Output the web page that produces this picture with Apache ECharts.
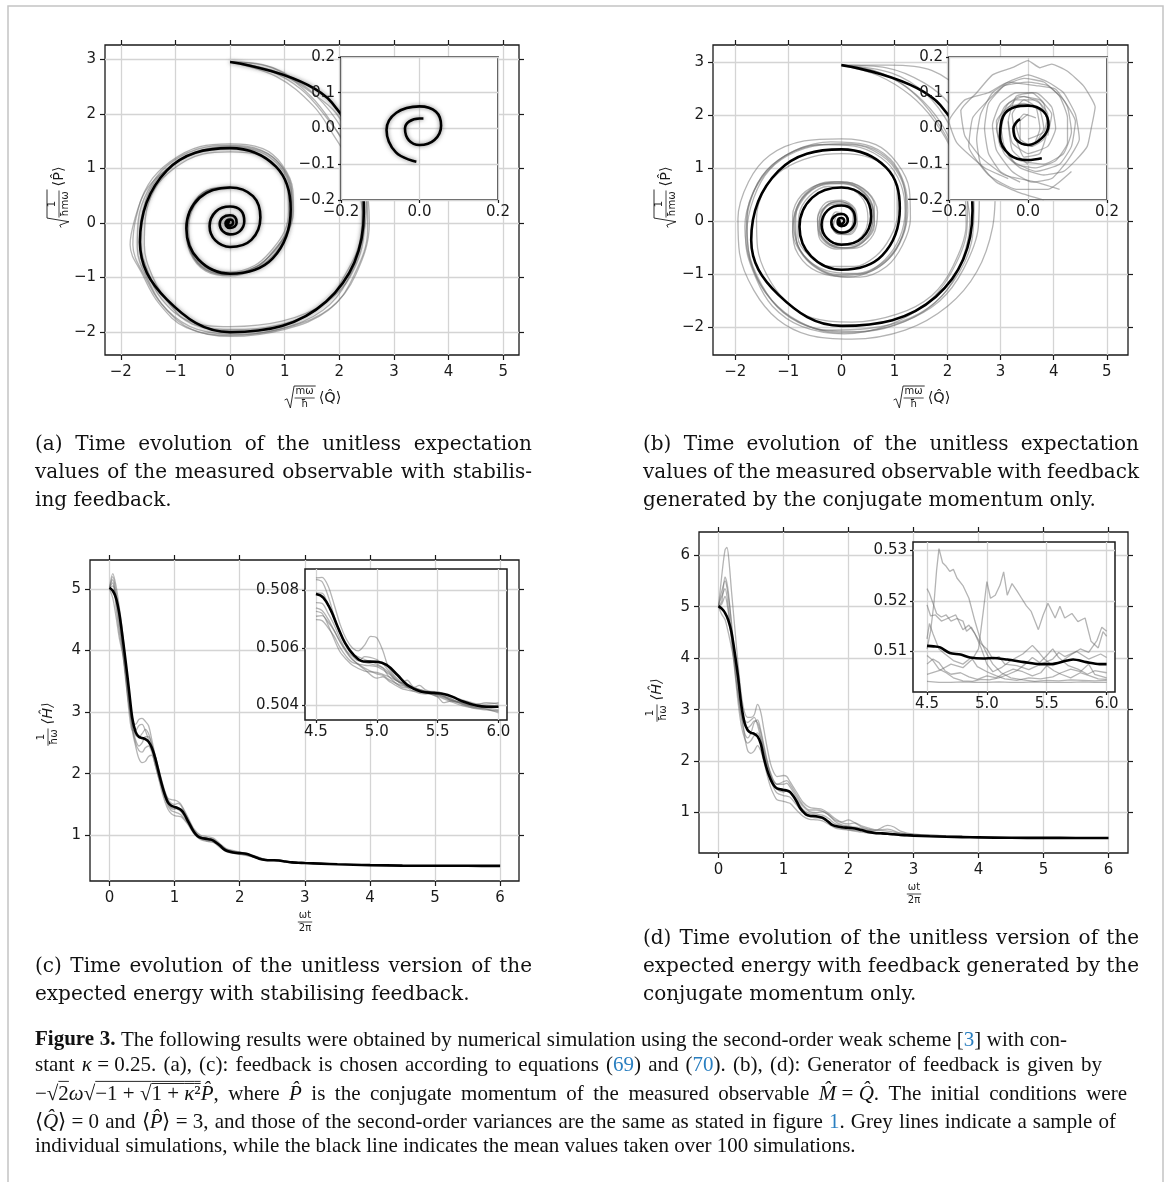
<!DOCTYPE html>
<html>
<head>
<meta charset="utf-8">
<script src="https://cdn.jsdelivr.net/npm/echarts@6/dist/echarts.min.js"></script>
<style>
  html, body { margin: 0; padding: 0; background: #fff; }
  #fig { width: 1167px; height: 1182px; }
</style>
</head>
<body>
<div id="fig"></div>
<script>
// ---- (a) phase-space spiral, stabilising feedback: [Q, P] ----
// one point per 45 degrees, placed on the extremes of each turn
const meanA = [
  [0,2.95],[1.86,2.21],[2.45,0.2],[1.76,-1.44],[0,-2.0],[-1.16,-1.4],[-1.65,-0.35],[-1.16,0.96],
  [0,1.37],[0.84,1.03],[1.11,0.25],[0.78,-0.65],[0,-0.93],[-0.58,-0.67],[-0.8,-0.1],[-0.56,0.46],
  [0,0.65],[0.42,0.49],[0.555,0.1],[0.39,-0.31],[0,-0.44],[-0.27,-0.32],[-0.375,-0.06],[-0.26,0.21],
  [0,0.3],[0.2,0.225],[0.26,0.03],[0.18,-0.15],[0,-0.21],[-0.135,-0.15],[-0.19,-0.02],[-0.133,0.1],
  [0,0.14],[0.09,0.105],[0.12,0.01],[0.085,-0.065],[-0.008,-0.093],[-0.06,-0.067],[-0.084,-0.004],[-0.059,0.044],
  [0,0.062],[0.042,0.047],[0.055,0.008],[0.038,-0.032],[0,-0.046],[-0.027,-0.033],[-0.037,0],[-0.026,0.02],
  [0,0.028],[0.01,0.028]
];
const greyA1 = [[0,2.95],[0.7,2.8],[1.3,2.45],[1.75,1.95],[2.2,1.3],[2.5,0.5],[2.52,-0.1],[2.25,-1.0],[1.8,-1.6],[1.0,-1.95],[0,-2.08],[-0.7,-1.95],[-1.2,-1.55],[-1.55,-1.0],[-1.78,-0.4],[-1.72,0.1],[-1.5,0.7],[-1.1,1.12],[-0.55,1.4],[0,1.45],[0.6,1.36],[0.95,1.07],[1.15,0.6],[1.16,0.2],[1.05,-0.2],[0.8,-0.58],[0.45,-0.85],[0,-0.97],[-0.45,-0.88],[-0.73,-0.55],[-0.8,-0.1],[-0.7,0.32],[-0.42,0.6],[0,0.66]];
const greyA2 = [[0,2.95],[0.85,2.68],[1.52,2.15],[1.9,1.6],[2.25,1.0],[2.42,0.4],[2.4,-0.2],[2.05,-1.05],[1.65,-1.55],[0.9,-1.87],[0,-1.95],[-0.7,-1.85],[-1.1,-1.5],[-1.42,-0.98],[-1.57,-0.4],[-1.55,0.1],[-1.38,0.62],[-1.05,0.98],[-0.5,1.26],[0,1.3],[0.52,1.25],[0.88,1.0],[1.06,0.6],[1.07,0.2],[1.0,-0.15],[0.76,-0.5],[0.45,-0.78],[0,-0.9],[-0.42,-0.82],[-0.68,-0.52],[-0.76,-0.1],[-0.66,0.3],[-0.4,0.56],[0,0.63]];
const greyA3 = [[0,2.95],[0.6,2.9],[1.2,2.62],[1.7,2.2],[2.15,1.55],[2.48,0.7],[2.55,0.0],[2.3,-0.95],[1.85,-1.55],[1.1,-1.9],[0.2,-2.04],[-0.6,-1.95],[-1.15,-1.6],[-1.5,-1.05],[-1.7,-0.45],[-1.68,0.05],[-1.5,0.6],[-1.15,1.05],[-0.6,1.35],[0,1.42],[0.58,1.33],[0.96,1.02],[1.13,0.58],[1.12,0.15],[1.02,-0.22],[0.78,-0.55],[0.45,-0.82],[0,-0.95],[-0.44,-0.86],[-0.72,-0.54],[-0.8,-0.1],[-0.7,0.31],[-0.43,0.59],[0,0.65]];
const greyA4 = [[0,2.95],[0.9,2.75],[1.45,2.35],[1.85,1.85],[2.2,1.2],[2.38,0.5],[2.45,-0.1],[2.2,-0.98],[1.72,-1.48],[0.95,-1.8],[0,-1.9],[-0.75,-1.8],[-1.25,-1.4],[-1.5,-0.9],[-1.65,-0.3],[-1.6,0.2],[-1.4,0.72],[-1.0,1.1],[-0.48,1.33],[0,1.38],[0.55,1.3],[0.92,1.02],[1.1,0.62],[1.12,0.22],[1.05,-0.12],[0.8,-0.52],[0.48,-0.8],[0,-0.92],[-0.43,-0.84],[-0.7,-0.56],[-0.78,-0.12],[-0.69,0.3],[-0.42,0.58],[0,0.64]];
const greyA5 = [[0,2.95],[0.75,2.85],[1.4,2.45],[1.95,2.0],[2.3,1.3],[2.5,0.55],[2.47,-0.05],[2.15,-1.05],[1.7,-1.6],[0.95,-1.93],[0,-2.06],[-0.8,-1.92],[-1.3,-1.48],[-1.6,-0.95],[-1.83,-0.4],[-1.75,0.05],[-1.55,0.58],[-1.2,0.95],[-0.6,1.3],[0,1.4],[0.57,1.32],[0.93,1.05],[1.12,0.6],[1.14,0.2],[1.06,-0.15],[0.8,-0.5],[0.5,-0.8],[0,-0.94],[-0.44,-0.86],[-0.71,-0.55],[-0.79,-0.12],[-0.7,0.3],[-0.43,0.58],[0,0.65]];
const insetMeanA = [[-0.008,-0.093],[-0.06,-0.067],[-0.084,-0.004],[-0.059,0.044],[0,0.062],[0.042,0.047],[0.055,0.008],[0.038,-0.032],[0,-0.046],[-0.027,-0.033],[-0.037,0],[-0.026,0.02],[0,0.028],[0.01,0.028]];

// ---- (b) phase-space spiral, momentum-only feedback ----
const meanB = [
  [0,2.95],[1.86,2.2],[2.47,0.2],[1.78,-1.42],[0,-1.97],[-1.19,-1.38],[-1.7,-0.35],[-1.19,0.95],
  [0,1.36],[0.84,1.02],[1.1,0.25],[0.77,-0.64],[0,-0.91],[-0.57,-0.66],[-0.79,-0.1],[-0.55,0.45],
  [0,0.64],[0.42,0.48],[0.56,0.1],[0.39,-0.31],[0,-0.44],[-0.27,-0.32],[-0.375,-0.06],[-0.26,0.21],
  [0,0.3],[0.2,0.225],[0.26,0.03],[0.18,-0.15],[0,-0.21],[-0.135,-0.15],[-0.19,-0.02],[-0.133,0.1],
  [0,0.14],[0.09,0.105],[0.12,0.01],[0.085,-0.06],[0.035,-0.083],[0,-0.088],[-0.046,-0.074],[-0.071,-0.022],[-0.063,0.034],[-0.033,0.06],[0,0.064],
  [0.039,0.048],[0.052,0.01],[0.035,-0.027],[0,-0.046],[-0.029,-0.032],[-0.037,0],[-0.03,0.017],[-0.02,0.026]
];
const greyB1 = [[0,2.95],[0.9,2.95],[1.7,2.85],[2.3,2.4],[2.7,1.6],[2.9,0.7],[2.85,-0.1],[2.55,-0.95],[2.0,-1.6],[1.2,-2.05],[0.2,-2.22],[-0.6,-2.15],[-1.2,-1.85],[-1.65,-1.3],[-1.92,-0.6],[-1.95,0.05],[-1.75,0.75],[-1.35,1.25],[-0.7,1.52],[0,1.56],[0.65,1.45],[1.05,1.1],[1.28,0.6],[1.3,0.05],[1.15,-0.45],[0.85,-0.85],[0.35,-1.05],[-0.2,-1.02],[-0.65,-0.82],[-0.9,-0.4],[-0.92,0.1],[-0.75,0.5],[-0.35,0.72],[0.1,0.74],[0.5,0.55],[0.68,0.18],[0.6,-0.25],[0.3,-0.5],[-0.1,-0.52],[-0.42,-0.3],[-0.45,0.05],[-0.3,0.35],[0,0.4],[0.25,0.25],[0.3,-0.05],[0.15,-0.25],[-0.1,-0.22],[-0.2,0],[-0.1,0.18],[0.05,0.15]];
const greyB2 = [[0,2.95],[0.7,2.75],[1.3,2.38],[1.75,1.9],[2.1,1.3],[2.32,0.6],[2.35,-0.05],[2.1,-0.85],[1.7,-1.4],[1.05,-1.75],[0.2,-1.9],[-0.55,-1.82],[-1.05,-1.5],[-1.4,-1.02],[-1.58,-0.5],[-1.6,0.05],[-1.45,0.6],[-1.1,0.98],[-0.55,1.22],[0,1.28],[0.55,1.2],[0.9,0.95],[1.05,0.55],[1.05,0.1],[0.92,-0.3],[0.65,-0.65],[0.25,-0.85],[-0.2,-0.85],[-0.6,-0.65],[-0.82,-0.3],[-0.8,0.12],[-0.6,0.48],[-0.25,0.66],[0.15,0.62],[0.42,0.4],[0.5,0.05],[0.38,-0.28],[0.1,-0.42],[-0.2,-0.38],[-0.35,-0.12],[-0.3,0.15],[-0.12,0.3],[0.1,0.28],[0.22,0.1],[0.18,-0.12],[0,-0.2],[-0.15,-0.08],[-0.1,0.1]];
const greyB3 = [[0,2.95],[0.85,2.9],[1.55,2.62],[2.05,2.2],[2.42,1.5],[2.6,0.7],[2.58,-0.1],[2.3,-0.9],[1.85,-1.5],[1.15,-1.9],[0.3,-2.08],[-0.5,-2.02],[-1.1,-1.72],[-1.5,-1.2],[-1.75,-0.55],[-1.78,0.1],[-1.58,0.72],[-1.2,1.15],[-0.6,1.42],[0.05,1.47],[0.62,1.36],[1.02,1.02],[1.2,0.55],[1.22,0.05],[1.08,-0.42],[0.75,-0.8],[0.3,-0.98],[-0.18,-0.95],[-0.6,-0.75],[-0.85,-0.35],[-0.86,0.1],[-0.68,0.5],[-0.3,0.72],[0.12,0.7],[0.45,0.5],[0.6,0.12],[0.5,-0.25],[0.2,-0.45],[-0.15,-0.45],[-0.38,-0.22],[-0.38,0.1],[-0.2,0.32],[0.05,0.33],[0.22,0.18],[0.24,-0.08],[0.08,-0.22],[-0.12,-0.18],[-0.16,0.02]];
const greyB4 = [[0,2.95],[0.6,2.85],[1.2,2.55],[1.65,2.1],[2.05,1.45],[2.3,0.7],[2.42,0],[2.25,-0.8],[1.9,-1.4],[1.3,-1.82],[0.5,-2.02],[-0.3,-2.05],[-0.95,-1.8],[-1.42,-1.35],[-1.72,-0.75],[-1.82,-0.1],[-1.68,0.5],[-1.35,1.0],[-0.85,1.35],[-0.2,1.5],[0.45,1.45],[0.92,1.18],[1.18,0.72],[1.25,0.2],[1.15,-0.3],[0.88,-0.72],[0.45,-0.98],[-0.05,-1.02],[-0.5,-0.85],[-0.8,-0.5],[-0.9,-0.05],[-0.78,0.38],[-0.45,0.66],[0,0.75],[0.4,0.62],[0.62,0.3],[0.62,-0.08],[0.42,-0.38],[0.1,-0.5],[-0.22,-0.42],[-0.42,-0.15],[-0.38,0.15],[-0.18,0.35],[0.08,0.35],[0.26,0.18],[0.27,-0.08],[0.1,-0.24],[-0.1,-0.2]];
const greyB5 = [[0,2.95],[0.8,2.78],[1.4,2.4],[1.88,1.85],[2.2,1.15],[2.38,0.45],[2.36,-0.2],[2.05,-1.0],[1.6,-1.55],[0.9,-1.95],[0.05,-2.12],[-0.75,-1.98],[-1.3,-1.6],[-1.62,-1.05],[-1.8,-0.4],[-1.75,0.25],[-1.5,0.85],[-1.05,1.25],[-0.45,1.45],[0.2,1.45],[0.75,1.25],[1.1,0.85],[1.22,0.35],[1.18,-0.15],[0.98,-0.6],[0.6,-0.92],[0.12,-1.05],[-0.35,-0.95],[-0.72,-0.65],[-0.92,-0.2],[-0.85,0.25],[-0.6,0.6],[-0.2,0.75],[0.25,0.68],[0.55,0.4],[0.62,0.02],[0.48,-0.32],[0.18,-0.5],[-0.15,-0.48],[-0.4,-0.28],[-0.45,0.05],[-0.28,0.3],[-0.02,0.38],[0.2,0.25],[0.25,0],[0.12,-0.2],[-0.08,-0.22],[-0.18,-0.05]];
const greyB6 = [[0,2.95],[0.95,2.8],[1.6,2.4],[2.05,1.8],[2.35,1.1],[2.5,0.35],[2.45,-0.4],[2.1,-1.15],[1.55,-1.7],[0.8,-2.02],[-0.05,-2.1],[-0.8,-1.9],[-1.35,-1.45],[-1.68,-0.85],[-1.78,-0.2],[-1.65,0.45],[-1.35,0.98],[-0.85,1.32],[-0.25,1.45],[0.35,1.4],[0.85,1.12],[1.12,0.7],[1.2,0.2],[1.1,-0.3],[0.82,-0.72],[0.4,-0.98],[-0.1,-1.0],[-0.55,-0.8],[-0.82,-0.45],[-0.88,0],[-0.72,0.42],[-0.38,0.68],[0.05,0.72],[0.42,0.55],[0.6,0.2],[0.55,-0.18],[0.3,-0.45],[-0.05,-0.5],[-0.35,-0.32],[-0.42,0],[-0.3,0.28],[-0.05,0.38],[0.18,0.28],[0.25,0.05],[0.15,-0.18],[-0.05,-0.24],[-0.2,-0.1]];
const insetMeanB = [[0.035,-0.083],[0,-0.088],[-0.046,-0.074],[-0.071,-0.022],[-0.063,0.034],[-0.033,0.06],[0,0.064],[0.039,0.048],[0.052,0.01],[0.035,-0.027],[0,-0.046],[-0.029,-0.032],[-0.037,0],[-0.03,0.017],[-0.02,0.026]];
const insetGreyB1 = [[0.08,-0.17],[0.02,-0.15],[-0.06,-0.13],[-0.12,-0.08],[-0.16,-0.02],[-0.17,0.05],[-0.13,0.1],[-0.09,0.15],[-0.04,0.17],[0.0,0.19],[0.03,0.17],[0.06,0.18],[0.1,0.16],[0.14,0.12],[0.17,0.06],[0.16,0.0],[0.15,-0.05],[0.12,-0.09],[0.09,-0.12],[0.04,-0.13],[-0.02,-0.11],[-0.06,-0.07],[-0.08,0.0],[-0.06,0.06],[-0.02,0.09],[0.03,0.08],[0.06,0.04],[0.05,-0.02]];
const insetGreyB2 = [[0.04,-0.2],[-0.02,-0.18],[-0.08,-0.15],[-0.12,-0.1],[-0.13,-0.03],[-0.12,0.04],[-0.09,0.1],[-0.05,0.13],[0.0,0.15],[0.05,0.13],[0.09,0.1],[0.12,0.04],[0.13,-0.03],[0.1,-0.09],[0.06,-0.14],[0.01,-0.15],[-0.04,-0.12],[-0.08,-0.06],[-0.09,0.01],[-0.07,0.07],[-0.03,0.1],[0.02,0.1],[0.06,0.06],[0.07,0.0],[0.05,-0.05],[0.0,-0.07],[-0.04,-0.04],[-0.05,0.02]];
const insetGreyB3 = [[-0.02,-0.15],[-0.07,-0.12],[-0.1,-0.07],[-0.11,0.0],[-0.1,0.07],[-0.06,0.12],[-0.01,0.14],[0.04,0.13],[0.08,0.09],[0.1,0.03],[0.1,-0.04],[0.07,-0.09],[0.02,-0.11],[-0.03,-0.1],[-0.06,-0.05],[-0.07,0.02],[-0.05,0.07],[-0.01,0.09],[0.03,0.07],[0.05,0.02],[0.04,-0.03],[0.01,-0.05],[-0.02,-0.03],[-0.03,0.01],[-0.01,0.04],[0.02,0.03]];
const insetGreyB4 = [[0.11,-0.12],[0.05,-0.17],[-0.03,-0.17],[-0.1,-0.13],[-0.15,-0.05],[-0.14,0.03],[-0.1,0.08],[-0.06,0.12],[0.0,0.13],[0.05,0.12],[0.09,0.08],[0.12,0.02],[0.11,-0.05],[0.08,-0.1],[0.02,-0.12],[-0.04,-0.09],[-0.07,-0.03],[-0.06,0.04],[-0.03,0.08],[0.02,0.08],[0.05,0.04],[0.04,-0.01],[0.0,-0.03]];
const insetGreyB5 = [[0.0,-0.1],[-0.04,-0.06],[-0.05,0.02],[-0.03,0.09],[0.01,0.1],[0.04,0.07],[0.05,0.0],[0.03,-0.07],[-0.01,-0.08],[-0.03,-0.03],[-0.04,0.04],[-0.01,0.08],[0.02,0.06],[0.03,0.0],[0.01,-0.05],[-0.02,-0.04],[-0.02,0.02],[0.0,0.04]];
const insetGreyB6 = [[-0.05,-0.14],[-0.11,-0.11],[-0.18,-0.04],[-0.2,0.02],[-0.16,0.08],[-0.1,0.1],[-0.05,0.13],[0.02,0.12],[0.07,0.11],[0.1,0.06],[0.11,-0.01],[0.09,-0.07],[0.04,-0.1],[-0.02,-0.09],[-0.07,-0.05],[-0.08,0.02],[-0.05,0.06],[-0.01,0.07],[0.03,0.05],[0.04,0.0],[0.02,-0.04]];

// ---- (c) energy, stabilising feedback: [omega t / 2pi, H / hbar omega] ----
const meanC = [[0,5.02],[0.05,4.97],[0.1,4.85],[0.15,4.6],[0.2,4.22],[0.25,3.8],[0.3,3.35],[0.35,2.9],[0.4,2.68],[0.45,2.6],[0.5,2.58],[0.55,2.56],[0.6,2.52],[0.65,2.42],[0.7,2.26],[0.75,2.05],[0.8,1.84],[0.85,1.66],[0.9,1.53],[0.95,1.48],[1.0,1.46],[1.05,1.44],[1.1,1.41],[1.15,1.34],[1.2,1.24],[1.25,1.14],[1.3,1.05],[1.35,0.99],[1.4,0.96],[1.5,0.94],[1.55,0.93],[1.6,0.91],[1.65,0.87],[1.7,0.83],[1.75,0.78],[1.8,0.75],[1.9,0.72],[2.0,0.71],[2.1,0.7],[2.2,0.66],[2.3,0.62],[2.4,0.6],[2.5,0.595],[2.6,0.59],[2.7,0.575],[2.8,0.56],[2.9,0.555],[3.0,0.55],[3.25,0.54],[3.5,0.53],[3.75,0.522],[4.0,0.515],[4.5,0.508],[5.0,0.5055],[5.5,0.5045],[6.0,0.504]];
const greyC1 = [[0,5.0],[0.05,5.2],[0.1,4.95],[0.15,4.5],[0.2,4.0],[0.25,3.5],[0.3,3.1],[0.35,2.85],[0.4,2.8],[0.45,2.88],[0.5,2.9],[0.55,2.85],[0.6,2.78],[0.65,2.55],[0.7,2.3],[0.75,2.05],[0.8,1.85],[0.85,1.7],[0.9,1.6],[0.95,1.58],[1.0,1.57],[1.05,1.55],[1.1,1.5],[1.2,1.3],[1.3,1.1],[1.4,1.0],[1.5,0.98],[1.6,0.95],[1.7,0.86],[1.8,0.78],[2.0,0.73],[2.2,0.68],[2.4,0.61],[2.6,0.6],[2.8,0.565],[3.0,0.553]];
const greyC2 = [[0,5.02],[0.05,5.1],[0.1,4.7],[0.15,4.3],[0.2,4.0],[0.25,3.7],[0.3,3.2],[0.35,2.7],[0.4,2.45],[0.45,2.25],[0.5,2.18],[0.55,2.2],[0.6,2.28],[0.65,2.3],[0.7,2.15],[0.75,1.95],[0.8,1.72],[0.85,1.55],[0.9,1.42],[0.95,1.35],[1.0,1.32],[1.05,1.31],[1.1,1.3],[1.2,1.18],[1.3,1.02],[1.4,0.93],[1.5,0.9],[1.6,0.88],[1.7,0.8],[1.8,0.73],[2.0,0.69],[2.2,0.65],[2.4,0.59],[2.6,0.585],[2.8,0.555],[3.0,0.547]];
const greyC3 = [[0,5.03],[0.05,5.25],[0.1,5.05],[0.15,4.7],[0.2,4.3],[0.25,3.75],[0.3,3.2],[0.35,2.8],[0.4,2.62],[0.45,2.6],[0.5,2.65],[0.55,2.72],[0.6,2.65],[0.65,2.48],[0.7,2.3],[0.75,2.1],[0.8,1.9],[0.85,1.72],[0.9,1.58],[0.95,1.52],[1.0,1.5],[1.05,1.52],[1.1,1.48],[1.2,1.28],[1.3,1.08],[1.4,0.98],[1.5,0.96],[1.6,0.93],[1.7,0.84],[1.8,0.77],[2.0,0.72],[2.2,0.67],[2.4,0.6],[2.6,0.595],[2.8,0.562],[3.0,0.552]];
const greyC4 = [[0,5.0],[0.05,4.85],[0.1,4.55],[0.15,4.2],[0.2,3.95],[0.25,3.6],[0.3,3.2],[0.35,2.75],[0.4,2.5],[0.45,2.38],[0.5,2.35],[0.55,2.42],[0.6,2.45],[0.65,2.35],[0.7,2.15],[0.75,1.95],[0.8,1.78],[0.85,1.6],[0.9,1.47],[0.95,1.4],[1.0,1.38],[1.05,1.36],[1.1,1.33],[1.2,1.2],[1.3,1.04],[1.4,0.95],[1.5,0.91],[1.6,0.89],[1.7,0.82],[1.8,0.74],[2.0,0.7],[2.2,0.655],[2.4,0.6],[2.6,0.588],[2.8,0.558],[3.0,0.549]];
const greyC5 = [[0,5.01],[0.05,5.05],[0.1,4.9],[0.15,4.55],[0.2,4.1],[0.25,3.6],[0.3,3.1],[0.35,2.75],[0.4,2.55],[0.45,2.45],[0.5,2.5],[0.55,2.6],[0.6,2.6],[0.65,2.45],[0.7,2.2],[0.75,2.0],[0.8,1.8],[0.85,1.62],[0.9,1.52],[0.95,1.45],[1.0,1.44],[1.05,1.42],[1.1,1.38],[1.2,1.22],[1.3,1.06],[1.4,0.97],[1.5,0.93],[1.6,0.91],[1.7,0.83],[1.8,0.76],[2.0,0.71],[2.2,0.662],[2.4,0.605],[2.6,0.59],[2.8,0.56],[3.0,0.55]];
const greyC6 = [[0,5.02],[0.05,5.15],[0.1,4.8],[0.15,4.4],[0.2,4.05],[0.25,3.55],[0.3,3.0],[0.35,2.7],[0.4,2.7],[0.45,2.78],[0.5,2.8],[0.55,2.7],[0.6,2.55],[0.65,2.4],[0.7,2.22],[0.75,2.02],[0.8,1.82],[0.85,1.64],[0.9,1.5],[0.95,1.43],[1.0,1.42],[1.05,1.45],[1.1,1.42],[1.2,1.25],[1.3,1.07],[1.4,0.96],[1.5,0.95],[1.6,0.92],[1.7,0.85],[1.8,0.76],[2.0,0.715],[2.2,0.67],[2.4,0.605],[2.6,0.592],[2.8,0.56],[3.0,0.551]];
const insetMeanC = [[4.5,0.50787],[4.56,0.50775],[4.62,0.50733],[4.68,0.50672],[4.74,0.50617],[4.81,0.50576],[4.89,0.50553],[5.0,0.50552],[5.08,0.50541],[5.17,0.50506],[5.25,0.50472],[5.36,0.50449],[5.47,0.50444],[5.55,0.5044],[5.62,0.50431],[5.71,0.50414],[5.82,0.504],[5.9,0.50396],[6.0,0.50396]];
const insetGreyC1 = [[4.5,0.50843],[4.55,0.50845],[4.6,0.50815],[4.65,0.5075],[4.7,0.5068],[4.75,0.5063],[4.8,0.506],[4.85,0.5059],[4.9,0.5061],[4.95,0.5064],[5.0,0.50635],[5.05,0.5059],[5.1,0.5053],[5.2,0.5048],[5.3,0.5046],[5.4,0.5045],[5.5,0.50448],[5.6,0.5043],[5.7,0.5042],[5.8,0.50408],[5.9,0.50405],[6.0,0.5041]];
const insetGreyC2 = [[4.5,0.50837],[4.55,0.5083],[4.6,0.5078],[4.65,0.5071],[4.7,0.5065],[4.75,0.50605],[4.8,0.50575],[4.9,0.5055],[5.0,0.5054],[5.05,0.5053],[5.1,0.505],[5.2,0.50465],[5.3,0.5046],[5.4,0.50448],[5.5,0.50435],[5.6,0.5042],[5.7,0.5041],[5.8,0.50395],[5.9,0.50392],[6.0,0.50385]];
const insetGreyC3 = [[4.5,0.50791],[4.55,0.5079],[4.6,0.5075],[4.65,0.507],[4.7,0.5065],[4.75,0.5061],[4.8,0.5058],[4.9,0.5056],[5.0,0.50545],[5.1,0.50515],[5.15,0.5049],[5.2,0.5048],[5.3,0.5045],[5.4,0.5044],[5.5,0.50445],[5.6,0.5042],[5.7,0.5041],[5.8,0.504],[5.9,0.50398],[6.0,0.50395]];
const insetGreyC4 = [[4.5,0.50757],[4.55,0.50755],[4.6,0.5072],[4.65,0.5068],[4.7,0.5063],[4.75,0.5059],[4.8,0.5056],[4.9,0.5053],[5.0,0.5051],[5.05,0.50505],[5.1,0.5049],[5.2,0.5047],[5.3,0.50462],[5.35,0.5047],[5.4,0.50455],[5.5,0.5044],[5.6,0.50425],[5.7,0.50405],[5.8,0.5039],[5.9,0.50385],[6.0,0.5038]];
const insetGreyC5 = [[4.5,0.50739],[4.55,0.5073],[4.6,0.507],[4.65,0.5066],[4.7,0.5062],[4.75,0.50585],[4.8,0.5056],[4.9,0.50525],[5.0,0.50495],[5.05,0.505],[5.1,0.50485],[5.2,0.5046],[5.3,0.5045],[5.4,0.50445],[5.5,0.50432],[5.6,0.50415],[5.7,0.504],[5.8,0.50392],[5.9,0.50388],[6.0,0.50375]];
const insetGreyC6 = [[4.5,0.50698],[4.55,0.50695],[4.6,0.5067],[4.65,0.5064],[4.7,0.506],[4.75,0.5057],[4.8,0.5055],[4.9,0.5054],[5.0,0.50535],[5.1,0.5051],[5.2,0.5048],[5.25,0.50488],[5.3,0.50465],[5.4,0.5045],[5.5,0.5044],[5.6,0.5042],[5.7,0.50405],[5.8,0.50398],[5.9,0.504],[6.0,0.50398]];
const insetGreyC7 = [[4.5,0.5071],[4.55,0.50712],[4.6,0.5069],[4.65,0.5066],[4.7,0.5062],[4.75,0.5059],[4.8,0.5057],[4.85,0.50555],[4.9,0.5057],[5.0,0.5056],[5.05,0.50545],[5.1,0.5052],[5.2,0.50475],[5.3,0.5046],[5.4,0.50445],[5.5,0.5043],[5.55,0.5041],[5.6,0.50415],[5.7,0.5041],[5.8,0.50402],[5.9,0.5041],[6.0,0.50405]];
const insetGreyC8 = [[4.5,0.50727],[4.55,0.5072],[4.6,0.5068],[4.65,0.5063],[4.7,0.50585],[4.75,0.5056],[4.8,0.5054],[4.9,0.5052],[5.0,0.50515],[5.1,0.505],[5.2,0.50478],[5.3,0.50462],[5.4,0.5045],[5.5,0.50438],[5.6,0.50425],[5.7,0.50408],[5.8,0.50395],[5.9,0.50388],[6.0,0.50382]];

// ---- (d) energy, momentum-only feedback ----
const meanD = [[0,5.01],[0.05,4.96],[0.1,4.88],[0.15,4.74],[0.2,4.5],[0.25,4.1],[0.3,3.65],[0.35,3.1],[0.4,2.75],[0.45,2.6],[0.5,2.55],[0.55,2.53],[0.6,2.48],[0.65,2.34],[0.7,2.05],[0.75,1.82],[0.8,1.65],[0.85,1.53],[0.9,1.47],[1.0,1.44],[1.05,1.43],[1.1,1.4],[1.15,1.32],[1.2,1.22],[1.25,1.1],[1.3,1.02],[1.35,0.96],[1.4,0.94],[1.5,0.93],[1.6,0.9],[1.65,0.86],[1.7,0.81],[1.75,0.76],[1.8,0.74],[1.9,0.715],[2.0,0.705],[2.1,0.69],[2.2,0.66],[2.3,0.625],[2.4,0.605],[2.5,0.598],[2.6,0.59],[2.7,0.578],[2.8,0.565],[2.9,0.56],[3.0,0.553],[3.25,0.54],[3.5,0.53],[3.75,0.523],[4.0,0.518],[4.5,0.511],[5.0,0.5087],[5.5,0.5075],[6.0,0.5075]];
const greyD1 = [[0,5.0],[0.05,5.6],[0.1,6.1],[0.13,6.15],[0.16,5.9],[0.2,5.3],[0.25,4.6],[0.3,3.9],[0.35,3.3],[0.4,2.95],[0.45,2.85],[0.5,2.85],[0.55,2.9],[0.6,3.1],[0.65,2.95],[0.7,2.6],[0.75,2.25],[0.8,1.95],[0.85,1.78],[0.9,1.7],[1.0,1.72],[1.05,1.7],[1.1,1.6],[1.2,1.4],[1.3,1.2],[1.4,1.1],[1.5,1.08],[1.6,1.06],[1.7,0.98],[1.8,0.88],[1.9,0.82],[2.0,0.86],[2.1,0.8],[2.2,0.72],[2.4,0.66],[2.6,0.68],[2.8,0.6],[3.0,0.57],[3.5,0.545],[4.0,0.525]];
const greyD2 = [[0,5.02],[0.05,5.3],[0.1,5.5],[0.15,5.2],[0.2,4.7],[0.25,4.0],[0.3,3.5],[0.35,3.05],[0.4,2.8],[0.45,2.75],[0.5,2.8],[0.55,2.85],[0.6,2.7],[0.65,2.45],[0.7,2.2],[0.75,1.95],[0.8,1.75],[0.85,1.6],[0.9,1.55],[1.0,1.55],[1.05,1.57],[1.1,1.5],[1.2,1.3],[1.3,1.12],[1.4,1.02],[1.5,1.0],[1.6,1.02],[1.7,0.95],[1.8,0.82],[1.9,0.76],[2.0,0.74],[2.2,0.7],[2.4,0.65],[2.6,0.75],[2.7,0.72],[2.8,0.64],[3.0,0.58],[3.5,0.55],[4.0,0.53]];
const greyD3 = [[0,5.01],[0.05,5.1],[0.1,5.58],[0.15,5.3],[0.2,4.6],[0.25,3.9],[0.3,3.3],[0.35,2.85],[0.4,2.55],[0.45,2.45],[0.5,2.55],[0.55,2.75],[0.6,2.8],[0.65,2.6],[0.7,2.3],[0.75,2.0],[0.8,1.72],[0.85,1.55],[0.9,1.45],[1.0,1.4],[1.05,1.42],[1.1,1.4],[1.2,1.25],[1.3,1.06],[1.4,0.98],[1.5,0.97],[1.6,0.95],[1.7,0.88],[1.8,0.78],[2.0,0.72],[2.2,0.68],[2.4,0.62],[2.6,0.6],[2.8,0.575],[3.0,0.56],[3.5,0.535],[4.0,0.52]];
const greyD4 = [[0,5.0],[0.05,4.85],[0.1,4.75],[0.15,4.5],[0.2,4.2],[0.25,3.9],[0.3,3.55],[0.35,3.0],[0.4,2.5],[0.45,2.2],[0.5,2.15],[0.55,2.2],[0.6,2.3],[0.65,2.2],[0.7,1.98],[0.75,1.72],[0.8,1.5],[0.85,1.35],[0.9,1.25],[1.0,1.22],[1.05,1.2],[1.1,1.18],[1.2,1.05],[1.3,0.93],[1.4,0.87],[1.5,0.86],[1.6,0.84],[1.7,0.77],[1.8,0.7],[2.0,0.66],[2.2,0.62],[2.4,0.59],[2.6,0.575],[2.8,0.555],[3.0,0.545],[3.5,0.53],[4.0,0.515]];
const greyD5 = [[0,5.03],[0.05,5.2],[0.1,5.35],[0.15,5.0],[0.2,4.4],[0.25,3.8],[0.3,3.3],[0.35,2.9],[0.4,2.7],[0.45,2.65],[0.5,2.7],[0.55,2.78],[0.6,2.75],[0.65,2.55],[0.7,2.25],[0.75,1.98],[0.8,1.78],[0.85,1.62],[0.9,1.55],[1.0,1.6],[1.05,1.62],[1.1,1.55],[1.2,1.35],[1.3,1.15],[1.4,1.05],[1.5,1.05],[1.6,1.03],[1.7,0.95],[1.8,0.85],[2.0,0.78],[2.1,0.8],[2.2,0.74],[2.4,0.67],[2.6,0.64],[2.8,0.6],[3.0,0.575],[3.5,0.55],[4.0,0.53]];
const greyD6 = [[0,5.0],[0.05,5.05],[0.1,5.2],[0.15,4.9],[0.2,4.35],[0.25,3.75],[0.3,3.15],[0.35,2.7],[0.4,2.45],[0.45,2.35],[0.5,2.4],[0.55,2.5],[0.6,2.55],[0.65,2.42],[0.7,2.15],[0.75,1.88],[0.8,1.65],[0.85,1.48],[0.9,1.38],[1.0,1.33],[1.05,1.32],[1.1,1.3],[1.2,1.15],[1.3,1.0],[1.4,0.92],[1.5,0.9],[1.6,0.88],[1.7,0.8],[1.8,0.72],[2.0,0.67],[2.2,0.64],[2.4,0.6],[2.6,0.58],[2.8,0.56],[3.0,0.55],[3.5,0.532],[4.0,0.518]];
const insetMeanD = [[4.5,0.5111],[4.555,0.511],[4.61,0.5108],[4.69,0.5097],[4.78,0.5094],[4.86,0.5088],[4.97,0.5086],[5.05,0.5087],[5.17,0.5084],[5.31,0.5079],[5.44,0.5075],[5.53,0.5075],[5.67,0.5082],[5.72,0.5084],[5.83,0.5079],[5.94,0.5075],[6.0,0.5075]];
const insetGreyD1 = [[4.5,0.5105],[4.53,0.514],[4.56,0.52],[4.58,0.526],[4.6,0.5303],[4.63,0.5275],[4.66,0.5268],[4.69,0.5258],[4.72,0.5262],[4.75,0.5245],[4.8,0.523],[4.85,0.5205],[4.9,0.516],[4.95,0.512],[5.0,0.5095],[5.05,0.5075],[5.12,0.5058],[5.2,0.5048],[5.3,0.5044],[5.4,0.5041],[5.5,0.5043],[5.6,0.5042],[5.7,0.5044],[5.8,0.5043],[5.9,0.5042],[6.0,0.5043]];
const insetGreyD2 = [[4.5,0.5055],[4.6,0.5062],[4.7,0.5075],[4.8,0.5068],[4.88,0.5085],[4.93,0.5105],[4.97,0.5179],[5.0,0.5238],[5.03,0.5205],[5.07,0.5211],[5.11,0.5231],[5.14,0.5257],[5.17,0.5211],[5.21,0.5234],[5.25,0.522],[5.29,0.5205],[5.33,0.519],[5.37,0.5179],[5.43,0.5143],[5.47,0.5172],[5.51,0.5195],[5.57,0.5166],[5.61,0.5189],[5.65,0.5166],[5.71,0.5175],[5.76,0.5159],[5.82,0.5166],[5.87,0.512],[5.93,0.5107],[5.97,0.5139],[6.0,0.513]];
const insetGreyD3 = [[4.5,0.5224],[4.52,0.5215],[4.55,0.5195],[4.58,0.5175],[4.62,0.5168],[4.66,0.5172],[4.7,0.516],[4.75,0.5165],[4.8,0.516],[4.83,0.514],[4.87,0.5148],[4.9,0.5135],[4.95,0.5115],[5.0,0.5105],[5.05,0.5085],[5.1,0.509],[5.15,0.5075],[5.25,0.5072],[5.35,0.5064],[5.45,0.5075],[5.55,0.5085],[5.6,0.5098],[5.65,0.509],[5.75,0.51],[5.85,0.5085],[5.95,0.5095],[6.0,0.5088]];
const insetGreyD4 = [[4.5,0.5192],[4.53,0.517],[4.57,0.5172],[4.62,0.516],[4.68,0.5166],[4.74,0.5172],[4.8,0.5143],[4.85,0.5152],[4.9,0.5135],[4.95,0.5108],[5.0,0.5075],[5.05,0.506],[5.12,0.5068],[5.2,0.5082],[5.3,0.5095],[5.38,0.5112],[5.42,0.5102],[5.48,0.5085],[5.55,0.5072],[5.62,0.508],[5.7,0.5093],[5.78,0.5105],[5.85,0.5098],[5.92,0.5122],[5.96,0.5148],[6.0,0.514]];
const insetGreyD5 = [[4.5,0.5075],[4.55,0.5085],[4.6,0.5078],[4.65,0.5062],[4.7,0.5055],[4.78,0.5058],[4.85,0.505],[4.92,0.5045],[5.0,0.5052],[5.08,0.5048],[5.15,0.5058],[5.22,0.5065],[5.3,0.506],[5.38,0.5052],[5.45,0.5058],[5.5,0.5072],[5.56,0.5062],[5.62,0.5055],[5.7,0.5048],[5.78,0.5058],[5.86,0.5052],[5.93,0.5046],[6.0,0.5045]];
const insetGreyD6 = [[4.5,0.5041],[4.6,0.5039],[4.7,0.5039],[4.8,0.504],[4.9,0.5039],[5.0,0.5039],[5.1,0.504],[5.2,0.5039],[5.3,0.5039],[5.4,0.504],[5.5,0.5039],[5.6,0.5039],[5.7,0.5039],[5.8,0.504],[5.9,0.5039],[6.0,0.5039]];
const insetGreyD7 = [[4.5,0.5092],[4.55,0.5082],[4.6,0.5065],[4.66,0.5058],[4.72,0.5048],[4.8,0.5042],[4.88,0.5041],[4.95,0.5045],[5.02,0.5044],[5.1,0.5048],[5.18,0.5055],[5.25,0.5062],[5.32,0.5075],[5.38,0.5088],[5.44,0.5078],[5.5,0.5092],[5.55,0.5105],[5.6,0.5088],[5.68,0.5072],[5.76,0.5065],[5.84,0.5055],[5.9,0.5062],[6.0,0.5058]];
const insetGreyD8 = [[4.5,0.5125],[4.52,0.5155],[4.55,0.5135],[4.6,0.5105],[4.65,0.5095],[4.72,0.5082],[4.8,0.5075],[4.87,0.5088],[4.92,0.507],[5.0,0.506],[5.08,0.5052],[5.15,0.5046],[5.25,0.5043],[5.35,0.5048],[5.45,0.5046],[5.55,0.505],[5.62,0.5058],[5.7,0.5065],[5.78,0.506],[5.85,0.5075],[5.9,0.5055],[6.0,0.5048]];

// ---- tick values ----
const ticksQ = [-2, -1, 0, 1, 2, 3, 4, 5];
const ticksP = [-2, -1, 0, 1, 2, 3];
const ticksInsetQ = [-0.2, 0, 0.2];
const ticksInsetP = [-0.2, -0.1, 0, 0.1, 0.2];
const ticksT = [0, 1, 2, 3, 4, 5, 6];
const ticksHc = [1, 2, 3, 4, 5];
const ticksHd = [1, 2, 3, 4, 5, 6];
const ticksInsetT = [4.5, 5.0, 5.5, 6.0];
const ticksInsetHc = [0.504, 0.506, 0.508];
const ticksInsetHd = [0.51, 0.52, 0.53];

// ---- captions ----
const capA = ['(a) Time evolution of the unitless expectation', 'values of the measured observable with stabilis-', 'ing feedback.'];
const capB = ['(b) Time evolution of the unitless expectation', 'values of the measured observable with feedback', 'generated by the conjugate momentum only.'];
const capC = ['(c) Time evolution of the unitless version of the', 'expected energy with stabilising feedback.'];
const capD = ['(d) Time evolution of the unitless version of the', 'expected energy with feedback generated by the', 'conjugate momentum only.'];
// markup: *italic*  #bold#  ~link colour~  ^overline^  &inner overline&
const figCaption = [
  '#Figure 3.# The following results were obtained by numerical simulation using the second-order weak scheme [~3~] with con-',
  'stant *\u03ba*\u00a0=\u00a00.25. (a), (c): feedback is chosen according to equations (~69~) and (~70~). (b), (d): Generator of feedback is given by',
  '\u2212\u221a^2^*\u03c9*\u221a^\u22121\u00a0+\u00a0\u221a&1\u00a0+\u00a0*\u03ba*\u00b2&^*P\u0302*, where *P\u0302* is the conjugate momentum of the measured observable *M\u0302*\u00a0=\u00a0*Q\u0302*. The initial conditions were',
  '\u27e8*Q\u0302*\u27e9\u00a0=\u00a00 and \u27e8*P\u0302*\u27e9\u00a0=\u00a03, and those of the second-order variances are the same as stated in figure ~1~. Grey lines indicate a sample of',
  'individual simulations, while the black line indicates the mean values taken over 100 simulations.'
];

// ================= build =================
const INK = '#1a1a1a';
const gridLine = { color: '#d4d4d4', width: 1.3 };
const tickLine = { color: INK, width: 1.2 };
const lblFont = { color: INK, fontSize: 15, fontFamily: '"DejaVu Sans"' };
const minus = v => String(v).replace('-', '\u2212');

const grids = [], xAxes = [], yAxes = [], series = [];

function addGrid(box, inset) {
  grids.push({
    left: box[0], top: box[1], width: box[2], height: box[3],
    show: true, borderColor: INK, borderWidth: inset ? 1.5 : 1.3,
    backgroundColor: inset ? '#fff' : 'transparent', z: inset ? 10 : 0
  });
  return grids.length - 1;
}

function valueAxis(gi, pos, range, ticks, fmt, showLabel, showSplit, z, margin, tickLen) {
  return {
    type: 'value', gridIndex: gi, position: pos, min: range[0], max: range[1], z: z,
    axisLine: { show: false, onZero: false },
    axisTick: { show: tickLen > 0, length: tickLen, lineStyle: tickLine, customValues: ticks },
    axisLabel: Object.assign({ show: showLabel, margin: margin, customValues: ticks, formatter: fmt }, lblFont),
    splitLine: { show: showSplit, lineStyle: gridLine },
    axisPointer: { show: false }
  };
}

// main panel: ticks on all four sides, labels bottom/left
function addMain(box, xr, yr, xt, yt) {
  const gi = addGrid(box, false);
  const xi = xAxes.length, yi = yAxes.length;
  xAxes.push(valueAxis(gi, 'bottom', xr, xt, minus, true, true, 0, 10, 5));
  xAxes.push(valueAxis(gi, 'top', xr, xt, minus, false, false, 0, 9, 5));
  yAxes.push(valueAxis(gi, 'left', yr, yt, minus, true, true, 0, 9, 5));
  yAxes.push(valueAxis(gi, 'right', yr, yt, minus, false, false, 0, 9, 5));
  return [xi, yi];
}
function addInset(box, xr, yr, xt, yt, xfmt, yfmt) {
  const gi = addGrid(box, true);
  const xi = xAxes.length, yi = yAxes.length;
  xAxes.push(valueAxis(gi, 'bottom', xr, xt, xfmt, true, true, 11, 5, 3));
  yAxes.push(valueAxis(gi, 'left', yr, yt, yfmt, true, true, 11, 6, 3));
  return [xi, yi];
}

const GREY = { color: 'rgba(105,105,105,0.5)', width: 1.3 };
const BLACK = { color: '#000', width: 2.6 };
const HALO = { color: '#000', width: 2.6, shadowColor: 'rgba(90,90,90,0.8)', shadowBlur: 4 };
function line(data, ax, style, z, smooth) {
  series.push({
    type: 'line', data: data, xAxisIndex: ax[0], yAxisIndex: ax[1],
    showSymbol: false, symbol: 'none', smooth: smooth, lineStyle: style,
    z: z, silent: true, animation: false, clip: true
  });
}

const fx1 = v => (Math.abs(v) < 1e-9 ? 0 : v).toFixed(1).replace('-', '\u2212');

// (a)
const axA = addMain([105, 45, 414, 310], [-2.29, 5.29], [-2.42, 3.26], ticksQ, ticksP);
const axAi = addInset([341, 57, 157, 143], [-0.2, 0.2], [-0.2, 0.2], ticksInsetQ, ticksInsetP, fx1, fx1);
[greyA1, greyA2, greyA3, greyA4, greyA5].forEach(d => line(d, axA, GREY, 2, 0.38));
line(meanA, axA, HALO, 3, 0.4);
line(insetMeanA, axAi, HALO, 13, 0.4);

// (b)
const axB = addMain([713, 45, 415, 310], [-2.42, 5.4], [-2.52, 3.33], ticksQ, ticksP);
const axBi = addInset([949, 57, 158, 143], [-0.2, 0.2], [-0.2, 0.2], ticksInsetQ, ticksInsetP, fx1, fx1);
[greyB1, greyB2, greyB3, greyB4, greyB5, greyB6].forEach(d => line(d, axB, GREY, 2, 0.33));
line(meanB, axB, BLACK, 3, 0.4);
[insetGreyB1, insetGreyB2, insetGreyB3, insetGreyB4, insetGreyB5, insetGreyB6].forEach(d => line(d, axBi, GREY, 12, 0.15));
line(insetMeanB, axBi, BLACK, 13, 0.4);

// (c)
const axC = addMain([90, 560, 429, 321], [-0.3, 6.29], [0.258, 5.47], ticksT, ticksHc);
const axCi = addInset([305, 569, 202, 151], [4.41, 6.07], [0.5035, 0.50874], ticksInsetT, ticksInsetHc, v => v.toFixed(1), v => v.toFixed(3));
[greyC1, greyC2, greyC3, greyC4, greyC5, greyC6].forEach(d => line(d, axC, GREY, 2, 0.3));
line(meanC, axC, BLACK, 3, 0.3);
[insetGreyC1, insetGreyC2, insetGreyC3, insetGreyC4, insetGreyC5, insetGreyC6, insetGreyC7, insetGreyC8].forEach(d => line(d, axCi, GREY, 12, 0.3));
line(insetMeanC, axCi, BLACK, 13, 0.4);

// (d)
const axD = addMain([699, 532, 429, 321], [-0.3, 6.3], [0.215, 6.45], ticksT, ticksHd);
const axDi = addInset([913, 542, 202, 150], [4.383, 6.07], [0.502, 0.5316], ticksInsetT, ticksInsetHd, v => v.toFixed(1), v => v.toFixed(2));
[greyD1, greyD2, greyD3, greyD4, greyD5, greyD6].forEach(d => line(d, axD, GREY, 2, 0.3));
line(meanD, axD, BLACK, 3, 0.3);
[insetGreyD1, insetGreyD2, insetGreyD3, insetGreyD4, insetGreyD5, insetGreyD6, insetGreyD7, insetGreyD8].forEach(d => line(d, axDi, GREY, 12, false));
line(insetMeanD, axDi, BLACK, 13, 0.3);

// ---- text helpers ----
const measureCtx = document.createElement('canvas').getContext('2d');
function tw(text, font) { measureCtx.font = font; return measureCtx.measureText(text).width; }

// axis title built from a fraction, optionally under a square root, plus a tail
function mathLabel(cx, cy, vertical, num, den, tail, radical, tailItalic) {
  const fFont = '10px "DejaVu Sans"';
  const tFont = (tailItalic ? 'italic ' : '') + '14.5px "DejaVu Sans"';
  const fw = Math.max(tw(num, fFont), tw(den, fFont)) + 2;
  const xs = radical ? 10 : 0;
  const kids = [];
  if (radical) {
    kids.push({ type: 'polyline', shape: { points: [[0, 2], [2.5, 0.8], [5.8, 10], [9.5, -12], [xs + fw + 1, -12]] },
      style: { stroke: INK, lineWidth: 0.9, fill: null } });
  }
  kids.push({ type: 'text', x: xs + fw / 2, y: -1.2, style: { text: num, font: fFont, fill: INK, align: 'center', verticalAlign: 'bottom' } });
  kids.push({ type: 'line', shape: { x1: xs, y1: 0, x2: xs + fw, y2: 0 }, style: { stroke: INK, lineWidth: 0.8 } });
  kids.push({ type: 'text', x: xs + fw / 2, y: 1.5, style: { text: den, font: fFont, fill: INK, align: 'center', verticalAlign: 'top' } });
  let W = xs + fw;
  if (tail) {
    kids.push({ type: 'text', x: W + 4, y: 0, style: { text: tail, font: tFont, fill: INK, align: 'left', verticalAlign: 'middle' } });
    W += 4 + tw(tail, tFont);
  }
  kids.forEach(k => { k.x = (k.x || 0) - W / 2; });
  return { type: 'group', x: cx, y: cy, rotation: vertical ? Math.PI / 2 : 0, children: kids, silent: true, z: 30 };
}

// word-level layout with optional justification and inline markup
function parseRuns(line) {
  const words = [];
  let word = [], run = null;
  const st = { i: false, b: false, l: false, oa: false, ob: false };
  const keys = { '*': 'i', '#': 'b', '~': 'l', '^': 'oa', '&': 'ob' };
  const flush = () => { if (run && run.t) word.push(run); run = null; };
  for (const ch of line) {
    if (keys[ch]) { flush(); st[keys[ch]] = !st[keys[ch]]; continue; }
    if (ch === ' ') { flush(); if (word.length) words.push(word); word = []; continue; }
    if (!run) run = Object.assign({ t: '' }, st);
    run.t += ch;
  }
  flush();
  if (word.length) words.push(word);
  return words;
}
// rightEdges: one right margin per line (null = natural spacing)
function placeLines(lines, x0, rightEdges, ys, size, family, out) {
  const fontOf = r => (r.i ? 'italic ' : '') + (r.b ? 'bold ' : '') + size + 'px ' + family;
  const space = tw(' ', size + 'px ' + family);
  lines.forEach((ln, li) => {
    const words = parseRuns(ln);
    const widths = words.map(w => w.reduce((s, r) => s + tw(r.t, fontOf(r)), 0));
    const total = widths.reduce((a, b) => a + b, 0);
    const x1 = rightEdges[li];
    const gap = (x1 == null || words.length < 2) ? space : (x1 - x0 - total) / (words.length - 1);
    let x = x0;
    const y = ys[li];
    words.forEach(w => {
      w.forEach(r => {
        const f = fontOf(r);
        const rw = tw(r.t, f);
        out.push({ type: 'text', x: x, y: y, silent: true, z: 30,
          style: { text: r.t, font: f, fill: r.l ? '#2a7fc0' : '#111', verticalAlign: 'middle' } });
        if (r.oa) out.push({ type: 'line', silent: true, z: 30, shape: { x1: x, y1: y - size * 0.6, x2: x + rw, y2: y - size * 0.6 }, style: { stroke: '#111', lineWidth: 0.9 } });
        if (r.ob) out.push({ type: 'line', silent: true, z: 30, shape: { x1: x, y1: y - size * 0.5, x2: x + rw, y2: y - size * 0.5 }, style: { stroke: '#111', lineWidth: 0.9 } });
        x += rw;
      });
      x += gap;
    });
  });
}

const graphics = [
  { type: 'rect', silent: true, z: 0, shape: { x: 8, y: 6, width: 1155, height: 1190 }, style: { fill: null, stroke: '#c4c4c4', lineWidth: 1.5 } },
  mathLabel(313, 398, false, 'm\u03c9', '\u0127', '\u27e8Q\u0302\u27e9', true, false),
  mathLabel(59, 197, true, '1', '\u0127m\u03c9', '\u27e8P\u0302\u27e9', true, false),
  mathLabel(922, 398, false, 'm\u03c9', '\u0127', '\u27e8Q\u0302\u27e9', true, false),
  mathLabel(666, 197, true, '1', '\u0127m\u03c9', '\u27e8P\u0302\u27e9', true, false),
  mathLabel(305, 922, false, '\u03c9t', '2\u03c0', null, false, false),
  mathLabel(48, 724, true, '1', '\u0127\u03c9', '\u27e8H\u0302\u27e9', false, true),
  mathLabel(914, 894, false, '\u03c9t', '2\u03c0', null, false, false),
  mathLabel(657, 700, true, '1', '\u0127\u03c9', '\u27e8H\u0302\u27e9', false, true)
];
const SUB = '"DejaVu Serif"';
placeLines(capA, 35, [532, 532, null], [445, 473, 501], 20, SUB, graphics);
placeLines(capB, 643, [1139, 1139, null], [445, 473, 501], 20, SUB, graphics);
placeLines(capC, 35, [532, null], [967, 995], 20, SUB, graphics);
placeLines(capD, 643, [1139, 1139, null], [939, 967, 995], 20, SUB, graphics);
placeLines(figCaption, 35, [1067, 1102, 1127, 1116, null], [1040, 1065, 1094, 1122, 1146], 21, '"Liberation Serif"', graphics);

const chart = echarts.init(document.getElementById('fig'), null, { renderer: 'canvas' });
chart.setOption({
  backgroundColor: '#fff',
  animation: false,
  grid: grids,
  xAxis: xAxes,
  yAxis: yAxes,
  series: series,
  graphic: graphics
});
</script>
</body>
</html>
